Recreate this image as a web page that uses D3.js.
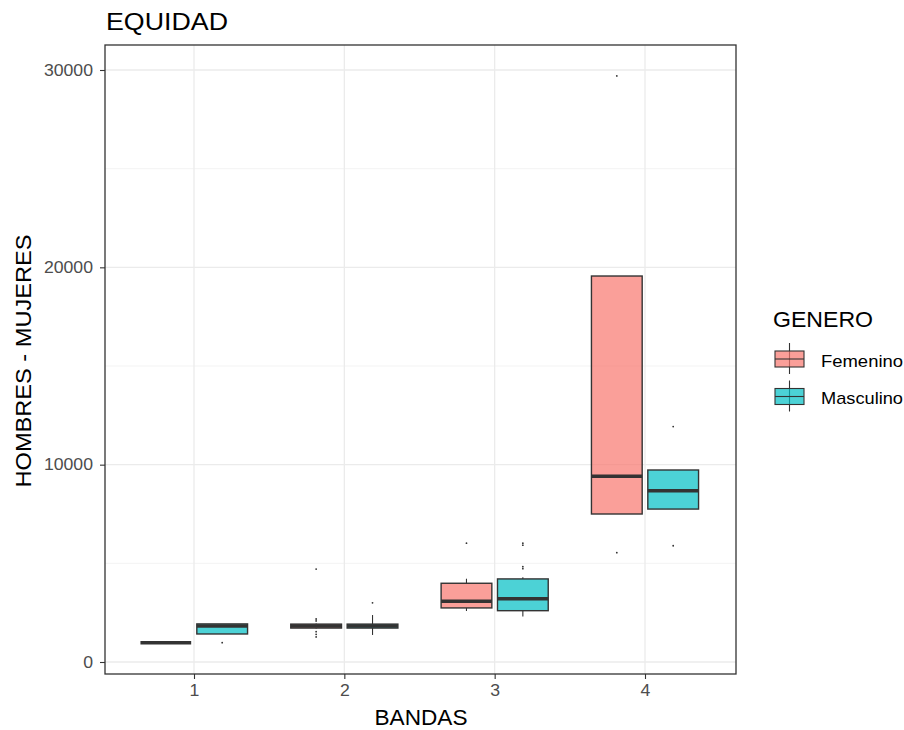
<!DOCTYPE html>
<html>
<head>
<meta charset="utf-8">
<script src="https://cdn.jsdelivr.net/npm/d3@7"></script>
<style>
  body { margin: 0; background: #fff; }
  text { font-family: "Liberation Sans", Arial, sans-serif; }
</style>
</head>
<body>
<script>
// data
var bandas = ["1", "2", "3", "4"];
var generos = ["Femenino", "Masculino"];
var colores = ["#F8766D", "#00BFC4"];

var femLo  = [980, 1700, 2585, 7500];
var femQ1  = [980, 1720, 2740, 7500];
var femMed = [980, 1830, 3075, 9410];
var femQ3  = [980, 1920, 3990, 19560];
var femHi  = [980, 1950, 4220, 19560];
var femOut = [[], [4710, 2180, 2080, 1535, 1400, 1270], [6020], [29700, 5540]];

var masLo  = [1420, 1370, 2300, 7750];
var masQ1  = [1420, 1720, 2600, 7750];
var masMed = [1830, 1830, 3210, 8680];
var masQ3  = [1930, 1920, 4210, 9730];
var masHi  = [1930, 2380, 4300, 9730];
var masOut = [[980], [3000], [6020, 5920, 4830, 4730], [11930, 5890]];

var yTicks = [0, 10000, 20000, 30000];
var yMinor = [5000, 15000, 25000];

var width = 904, height = 730;
var panel = { left: 105, right: 736, top: 45, bottom: 674 };

var svg = d3.select("body").append("svg")
    .attr("width", width)
    .attr("height", height);

// text in the reference is drawn a little wider than Liberation Sans
function stretch(sel, target) {
  sel.each(function() {
    var w = this.getComputedTextLength();
    var t = typeof target === "function" ? target(w) : target;
    d3.select(this).attr("textLength", t).attr("lengthAdjust", "spacingAndGlyphs");
  });
}

var x = d3.scalePoint()
    .domain(bandas)
    .range([194, 645]);
var step = x.step();

var y = d3.scaleLinear()
    .domain([0, 30000])
    .range([662, 70]);

var g = svg.append("g");

// grid
g.selectAll(".minor").data(yMinor).enter().append("line")
    .attr("x1", panel.left).attr("x2", panel.right)
    .attr("y1", function(d) { return y(d); }).attr("y2", function(d) { return y(d); })
    .attr("stroke", "#f3f3f3").attr("stroke-width", 1);
g.selectAll(".major").data(yTicks).enter().append("line")
    .attr("x1", panel.left).attr("x2", panel.right)
    .attr("y1", function(d) { return y(d); }).attr("y2", function(d) { return y(d); })
    .attr("stroke", "#ebebeb").attr("stroke-width", 1.3);
g.selectAll(".vgrid").data(bandas).enter().append("line")
    .attr("x1", function(d) { return x(d); }).attr("x2", function(d) { return x(d); })
    .attr("y1", panel.top).attr("y2", panel.bottom)
    .attr("stroke", "#ebebeb").attr("stroke-width", 1.3);

// boxes
var boxW = step * 0.3375, off = step * 0.1875;
var series = [
  { lo: femLo, q1: femQ1, med: femMed, q3: femQ3, hi: femHi, out: femOut },
  { lo: masLo, q1: masQ1, med: masMed, q3: masQ3, hi: masHi, out: masOut }
];

series.forEach(function(s, si) {
  var rows = bandas.map(function(b, i) {
    return { b: b, lo: s.lo[i], q1: s.q1[i], med: s.med[i], q3: s.q3[i], hi: s.hi[i], out: s.out[i] };
  });
  var cx = function(d) { return x(d.b) + (si === 0 ? -off : off); };
  var grp = g.append("g");

  grp.selectAll(".wl").data(rows).enter().append("line")
      .attr("x1", cx).attr("x2", cx)
      .attr("y1", function(d) { return y(d.lo); }).attr("y2", function(d) { return y(d.q1); })
      .attr("stroke", "#333").attr("stroke-width", 1.1);
  grp.selectAll(".wh").data(rows).enter().append("line")
      .attr("x1", cx).attr("x2", cx)
      .attr("y1", function(d) { return y(d.q3); }).attr("y2", function(d) { return y(d.hi); })
      .attr("stroke", "#333").attr("stroke-width", 1.1);

  grp.selectAll("rect").data(rows).enter().append("rect")
      .attr("x", function(d) { return cx(d) - boxW / 2; })
      .attr("width", boxW)
      .attr("y", function(d) { return y(d.q3); })
      .attr("height", function(d) { return y(d.q1) - y(d.q3); })
      .attr("fill", colores[si]).attr("fill-opacity", 0.7)
      .attr("stroke", "#333").attr("stroke-width", 1.4);

  grp.selectAll(".med").data(rows).enter().append("line")
      .attr("x1", function(d) { return cx(d) - boxW / 2; })
      .attr("x2", function(d) { return cx(d) + boxW / 2; })
      .attr("y1", function(d) { return y(d.med); }).attr("y2", function(d) { return y(d.med); })
      .attr("stroke", "#333").attr("stroke-width", 3.5);

  rows.forEach(function(d) {
    grp.selectAll(null).data(d.out).enter().append("circle")
        .attr("cx", cx(d)).attr("cy", function(v) { return y(v); })
        .attr("r", 0.9).attr("fill", "#333");
  });
});

// panel border
g.append("rect")
    .attr("x", panel.left).attr("y", panel.top)
    .attr("width", panel.right - panel.left).attr("height", panel.bottom - panel.top)
    .attr("fill", "none").attr("stroke", "#333").attr("stroke-width", 1.3);

// axes
var yAxis = d3.axisLeft(y).tickValues(yTicks).tickSize(5).tickPadding(7).tickFormat(d3.format("d"));
var ya = svg.append("g").attr("transform", "translate(" + panel.left + ",0)").call(yAxis);
var xAxis = d3.axisBottom(x).tickSize(5).tickPadding(5);
var xa = svg.append("g").attr("transform", "translate(0," + panel.bottom + ")").call(xAxis);
[ya, xa].forEach(function(a) {
  a.select(".domain").remove();
  a.selectAll(".tick line").attr("stroke", "#333").attr("stroke-width", 1.1);
  a.selectAll(".tick text").attr("fill", "#4d4d4d").style("font-size", "16.5px")
      .style("font-family", "'Liberation Sans', Arial, sans-serif");
  stretch(a.selectAll(".tick text"), function(w) { return w * 1.07; });
});

// titles
svg.append("text").attr("x", 106).attr("y", 30)
    .style("font-size", "24.5px").attr("fill", "#000").text("EQUIDAD")
    .call(stretch, 122);
svg.append("text").attr("x", 421).attr("y", 725)
    .attr("text-anchor", "middle").style("font-size", "22px").text("BANDAS")
    .call(stretch, 93);
svg.append("text")
    .attr("transform", "translate(31,361) rotate(-90)")
    .attr("text-anchor", "middle").style("font-size", "22px").text("HOMBRES - MUJERES")
    .call(stretch, 253);

// legend
var lg = svg.append("g").attr("transform", "translate(773,0)");
lg.append("text").attr("x", 0).attr("y", 327).style("font-size", "22px").text("GENERO")
    .call(stretch, 100);
generos.forEach(function(name, i) {
  var top = 343 + i * 37.5, kx = 2, kw = 29;
  var mid = kx + kw / 2;
  lg.append("line").attr("x1", mid).attr("x2", mid).attr("y1", top).attr("y2", top + 31)
      .attr("stroke", "#333").attr("stroke-width", 1.1);
  lg.append("rect").attr("x", kx).attr("y", top + 8).attr("width", kw).attr("height", 16)
      .attr("fill", colores[i]).attr("fill-opacity", 0.7).attr("stroke", "#333").attr("stroke-width", 1.1);
  lg.append("line").attr("x1", kx).attr("x2", kx + kw).attr("y1", top + 16).attr("y2", top + 16)
      .attr("stroke", "#333").attr("stroke-width", 1.1);
  lg.append("text").attr("x", 48).attr("y", top + 23.5).style("font-size", "17px").text(name)
      .call(stretch, 82);
});
</script>
</body>
</html>
